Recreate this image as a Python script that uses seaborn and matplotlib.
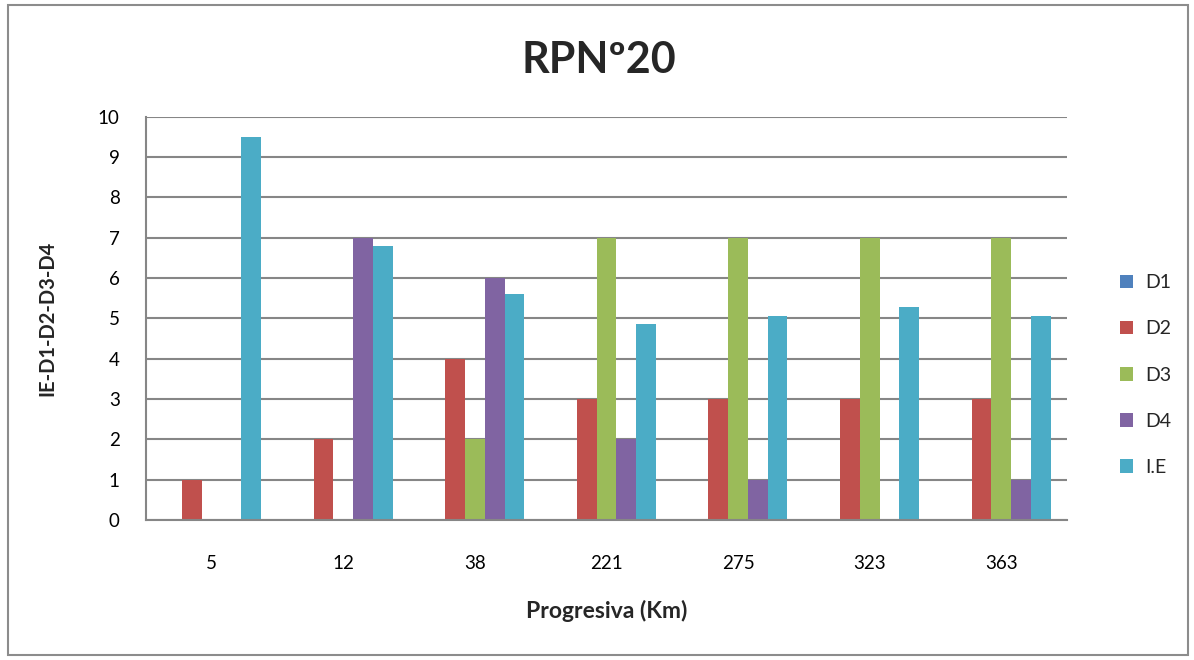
import matplotlib
matplotlib.use("Agg")
import matplotlib.pyplot as plt
from matplotlib.patches import Patch, Rectangle
import seaborn as sns
import pandas as pd

# Progressive distances (km) along RPN 20
progresiva = ["5", "12", "38", "221", "275", "323", "363"]
series = ["D1", "D2", "D3", "D4", "I.E"]

d1 = [0, 0, 0, 0, 0, 0, 0]
d2 = [1, 2, 4, 3, 3, 3, 3]
d3 = [0, 0, 2, 7, 7, 7, 7]
d4 = [0, 7, 6, 2, 1, 0, 1]
ie = [9.5, 6.8, 5.6, 4.85, 5.05, 5.28, 5.05]

colors = ["#4F81BD", "#C0504D", "#9BBB59", "#8064A2", "#4BACC6"]

rows = []
for name, vals in zip(series, [d1, d2, d3, d4, ie]):
    for km, v in zip(progresiva, vals):
        rows.append({"Progresiva": km, "Valor": v, "Serie": name})
df = pd.DataFrame(rows)

sns.set_theme(style="white")
plt.rcParams["font.family"] = ["Lato", "DejaVu Sans"]

W, H = 1194, 660
fig = plt.figure(figsize=(W / 100, H / 100), dpi=100)
fig.patch.set_facecolor("white")

left, right, top, bottom = 146, 1067, 116.5, 520
ax = fig.add_axes([left / W, 1 - bottom / H, (right - left) / W, (bottom - top) / H])

sns.barplot(data=df, x="Progresiva", y="Valor", hue="Serie", order=progresiva,
            hue_order=series, palette=colors, width=0.75, saturation=1,
            errorbar=None, legend=False, ax=ax, linewidth=0)

ax.set_xlim(-0.5, len(progresiva) - 0.5)
ax.set_ylim(0, 10)
ax.set_yticks(range(0, 11))
ax.yaxis.grid(True, color="#868686", linewidth=1.5)
ax.set_axisbelow(True)
for s in ["top", "right"]:
    ax.spines[s].set_visible(False)
for s in ["left", "bottom"]:
    ax.spines[s].set_color("#868686")
    ax.spines[s].set_linewidth(1.5)
ax.tick_params(axis="both", length=0, labelsize=13.5, colors="black")
ax.tick_params(axis="y", pad=19)
ax.tick_params(axis="x", pad=25)

ax.set_xlabel("Progresiva (Km)", fontsize=16.5, fontweight="bold", labelpad=20)
ax.set_ylabel("IE-D1-D2-D3-D4", fontsize=14.5, fontweight="bold", labelpad=29)

fig.text(599 / W, 1 - 60 / H, "RPNº20", ha="center", va="center",
         fontsize=31, fontweight="bold")

handles = [Patch(facecolor=c, edgecolor="none") for c in colors]
fig.legend(handles, series, loc="center left",
           bbox_to_anchor=(1102 / W, 1 - 375 / H), frameon=False,
           fontsize=14, handlelength=0.7, handleheight=0.7,
           handletextpad=0.6, labelspacing=1.5)

fig.patches.append(Rectangle((8 / W, 5 / H), (1188 - 8) / W, (655 - 5) / H,
                             transform=fig.transFigure, fill=False,
                             edgecolor="#8C8C8C", linewidth=1.5))

fig.savefig("out.png", dpi=100, facecolor="white")
